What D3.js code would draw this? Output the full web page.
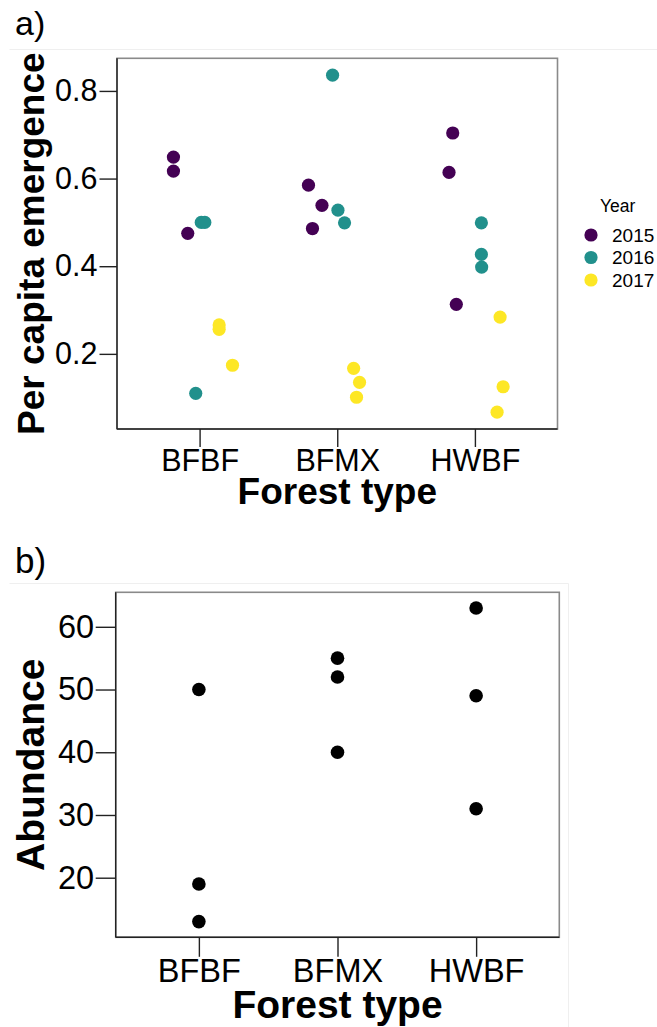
<!DOCTYPE html>
<html>
<head>
<meta charset="utf-8">
<script src="https://cdn.jsdelivr.net/npm/d3@7"></script>
<style>
  html, body { margin: 0; padding: 0; background: #ffffff; }
  svg { display: block; font-family: "Liberation Sans", Arial, Helvetica, sans-serif; }
</style>
</head>
<body>
<svg id="chart" width="657" height="1027"></svg>
<script>
// ---------------- DATA ----------------
const forestTypes = ["BFBF", "BFMX", "HWBF"];
const years = ["2015", "2016", "2017"];
const yearColors = ["#440154", "#21908C", "#FDE725"];

// Panel a: per capita emergence (forest, year, value, horizontal jitter in category units)
const emergenceForest = ["BFBF","BFBF","BFBF","BFBF","BFBF","BFBF","BFBF","BFBF","BFBF",
                         "BFMX","BFMX","BFMX","BFMX","BFMX","BFMX","BFMX","BFMX","BFMX",
                         "HWBF","HWBF","HWBF","HWBF","HWBF","HWBF","HWBF","HWBF","HWBF"];
const emergenceYear   = ["2015","2015","2015","2016","2016","2016","2017","2017","2017",
                         "2015","2015","2015","2016","2016","2016","2017","2017","2017",
                         "2015","2015","2015","2016","2016","2016","2017","2017","2017"];
const emergenceValue  = [0.649, 0.617, 0.475, 0.500, 0.500, 0.110, 0.266, 0.256, 0.174,
                         0.585, 0.539, 0.486, 0.836, 0.528, 0.499, 0.167, 0.135, 0.101,
                         0.704, 0.614, 0.313, 0.499, 0.427, 0.398, 0.284, 0.125, 0.067];
const emergenceJitter = [-0.190, -0.190, -0.086, 0.012, 0.038, -0.028, 0.142, 0.142, 0.239,
                         -0.209, -0.111, -0.180, -0.034, 0.005, 0.053, 0.119, 0.162, 0.140,
                         -0.161, -0.188, -0.135, 0.047, 0.047, 0.049, 0.183, 0.205, 0.161];

// Panel b: abundance
const abundanceForest = ["BFBF","BFBF","BFBF","BFMX","BFMX","BFMX","HWBF","HWBF","HWBF"];
const abundanceValue  = [50, 19, 13, 55, 52, 40, 63, 49, 31];

const yTicksA = [0.2, 0.4, 0.6, 0.8];
const yTicksB = [20, 30, 40, 50, 60];

// ---------------- DRAW ----------------
const svg = d3.select("#chart");

function expandDomain(vals, frac) {
  const [lo, hi] = d3.extent(vals);
  const pad = (hi - lo) * frac;
  return [lo - pad, hi + pad];
}

function drawPanel(opt) {
  const g = svg.append("g");
  // faint outer panel line (plot background)
  g.append("path")
    .attr("d", opt.bgPath)
    .attr("fill", "none")
    .attr("stroke", "#efefef")
    .attr("stroke-width", 1);

  const x = d3.scalePoint().domain(forestTypes).range([opt.left, opt.right]).padding(0.6);
  const y = d3.scaleLinear().domain(expandDomain(opt.values, 0.05)).range([opt.bottom, opt.top]);

  // panel box (top/right gray)
  g.append("rect")
    .attr("x", opt.left).attr("y", opt.top)
    .attr("width", opt.right - opt.left).attr("height", opt.bottom - opt.top)
    .attr("fill", "none").attr("stroke", "#8a8a8a").attr("stroke-width", 1.6);

  // y axis
  const ya = g.append("g").attr("transform", `translate(${opt.left},0)`)
    .call(d3.axisLeft(y).tickValues(opt.yTicks).tickSize(opt.yTickLen).tickPadding(opt.yTickPad)
      .tickFormat(opt.yFormat));
  ya.select(".domain").attr("stroke", "#222").attr("stroke-width", 1.4)
    .attr("d", `M0,${opt.top}V${opt.bottom}`);
  ya.selectAll(".tick line").attr("stroke", "#222").attr("stroke-width", 1.4);
  ya.selectAll(".tick text").attr("fill", "#000").style("font-size", opt.tickFont + "px")
    .style("font-family", "'Liberation Sans', Arial, sans-serif");

  // x axis
  const xa = g.append("g").attr("transform", `translate(0,${opt.bottom})`)
    .call(d3.axisBottom(x).tickSize(opt.xTickLen).tickPadding(opt.xTickPad));
  xa.select(".domain").attr("stroke", "#222").attr("stroke-width", 1.4)
    .attr("d", `M${opt.left},0H${opt.right}`);
  xa.selectAll(".tick line").attr("stroke", "#222").attr("stroke-width", 1.4);
  xa.selectAll(".tick text").attr("fill", "#000").style("font-size", opt.tickFont + "px")
    .style("font-family", "'Liberation Sans', Arial, sans-serif");

  // axis titles
  g.append("text")
    .attr("x", (opt.left + opt.right) / 2).attr("y", opt.xTitleY)
    .attr("text-anchor", "middle").attr("font-weight", "bold")
    .style("font-size", opt.titleFont + "px").text("Forest type");
  g.append("text")
    .attr("transform", `translate(${opt.yTitleX},${(opt.top + opt.bottom) / 2}) rotate(-90)`)
    .attr("text-anchor", "middle").attr("font-weight", "bold")
    .style("font-size", opt.titleFont + "px").text(opt.yTitle);

  // panel tag
  g.append("text").attr("x", opt.tagX).attr("y", opt.tagY)
    .style("font-size", opt.tagFont + "px").text(opt.tag);

  return { g, x, y };
}

// Panel a
const pa = drawPanel({
  left: 117, right: 557.5, top: 58.3, bottom: 429,
  values: emergenceValue, yTicks: yTicksA, yFormat: d3.format(".1f"),
  yTickLen: 17.5, yTickPad: 2, xTickLen: 18, xTickPad: 2,
  tickFont: 30.5, titleFont: 37, xTitleY: 504, yTitleX: 43.5,
  yTitle: "Per capita emergence", tag: "a)", tagX: 15, tagY: 35, tagFont: 34,
  bgPath: "M9.5,49.5H657"
});
const emergence = emergenceValue.map((v, i) => ({
  v, f: emergenceForest[i], yr: emergenceYear[i], j: emergenceJitter[i]
}));
const colorScale = d3.scaleOrdinal().domain(years).range(yearColors);
pa.g.append("g").selectAll("circle").data(emergence).join("circle")
  .attr("cx", d => pa.x(d.f) + d.j * pa.x.step())
  .attr("cy", d => pa.y(d.v))
  .attr("r", 6.6)
  .attr("fill", d => colorScale(d.yr));

// Legend
const leg = svg.append("g");
leg.append("text").attr("x", 600).attr("y", 212).style("font-size", "17.5px").text("Year");
const legY = d3.scalePoint().domain(years).range([235, 280]);
leg.selectAll("circle").data(years).join("circle")
  .attr("cx", 591).attr("cy", d => legY(d)).attr("r", 6.6).attr("fill", d => colorScale(d));
leg.selectAll("text.lab").data(years).join("text").attr("class", "lab")
  .attr("x", 612).attr("y", d => legY(d)).attr("dy", "0.36em")
  .style("font-size", "19px").text(d => d);

// Panel b
const pb = drawPanel({
  left: 115.7, right: 559.3, top: 592.3, bottom: 937.3,
  values: abundanceValue, yTicks: yTicksB, yFormat: d3.format("d"),
  yTickLen: 20, yTickPad: 1.5, xTickLen: 19.5, xTickPad: 2,
  tickFont: 32.5, titleFont: 39, xTitleY: 1018, yTitleX: 44.3,
  yTitle: "Abundance", tag: "b)", tagX: 15, tagY: 573, tagFont: 35,
  bgPath: "M9.5,583.5H568.5V1027"
});
const abundance = abundanceValue.map((v, i) => ({ v, f: abundanceForest[i] }));
pb.g.append("g").selectAll("circle").data(abundance).join("circle")
  .attr("cx", d => pb.x(d.f))
  .attr("cy", d => pb.y(d.v))
  .attr("r", 6.8)
  .attr("fill", "#000");
</script>
</body>
</html>
